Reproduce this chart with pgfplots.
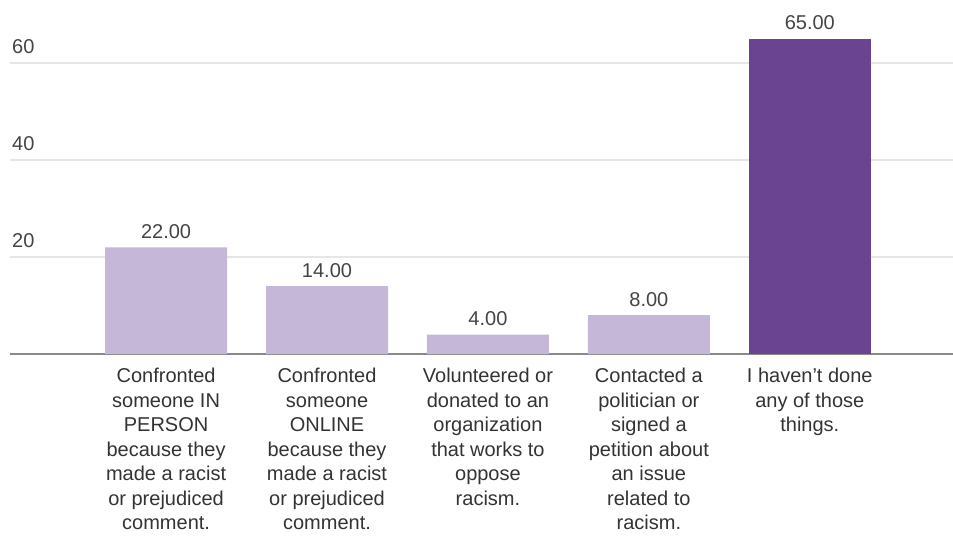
\documentclass[border=0pt]{standalone}
\usepackage{pgfplots}
\pgfplotsset{compat=1.18}
\usepackage{fontspec}
\setmainfont{Liberation Sans}
\definecolor{lightbar}{HTML}{C5B7D7}
\definecolor{darkbar}{HTML}{6A4490}
\definecolor{gridc}{HTML}{E6E6E6}
\definecolor{basec}{HTML}{8A8A8A}
\definecolor{txt}{HTML}{444444}
\definecolor{cattxt}{HTML}{333333}
\begin{document}
\begin{tikzpicture}
\path[use as bounding box] (0,0) rectangle (953pt,536pt);
\begin{axis}[
  at={(10pt,182pt)}, anchor=south west,
  scale only axis, width=943pt, height=354.05pt,
  xmin=-0.97, xmax=4.89, ymin=0, ymax=73,
  axis line style={draw=none},
  /pgf/number format/assume math mode=true,
  ybar, bar width=122pt,
  ytick={20,40,60},
  ymajorgrids, major grid style={gridc, line width=2pt},
  extra y ticks={0}, extra y tick labels={},
  extra y tick style={grid=major, major grid style={basec, line width=2.5pt}},
  major tick length=0pt,
  yticklabel style={anchor=base west, inner sep=0pt, xshift=2pt, yshift=10pt,
    font=\fontsize{20}{24}\selectfont, color=txt},
  xtick={0,1,2,3,4},
  xticklabels={
    {Confronted\\someone IN\\PERSON\\because they\\made a racist\\or prejudiced\\comment.},
    {Confronted\\someone\\ONLINE\\because they\\made a racist\\or prejudiced\\comment.},
    {Volunteered or\\donated to an\\organization\\that works to\\oppose\\racism.},
    {Contacted a\\politician or\\signed a\\petition about\\an issue\\related to\\racism.},
    {I haven’t done\\any of those\\things.}},
  xticklabel style={anchor=north, align=center, inner sep=0pt, yshift=-14pt,
    font=\fontsize{20}{24.5}\selectfont, color=cattxt},
  nodes near coords,
  nodes near coords style={font=\fontsize{20}{24}\selectfont, color=txt,
    anchor=base, inner sep=0pt, yshift=9pt,
    /pgf/number format/.cd, fixed, fixed zerofill, precision=2},
]
\addplot[fill=lightbar, draw=none, bar shift=0pt] coordinates {(0,22) (1,14) (2,4) (3,8)};
\addplot[fill=darkbar, draw=none, bar shift=0pt] coordinates {(4,65)};
\end{axis}
\end{tikzpicture}
\end{document}
